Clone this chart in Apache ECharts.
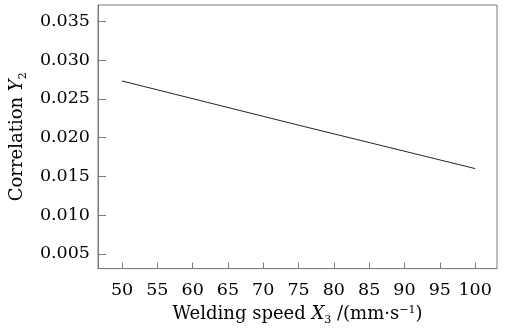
<!DOCTYPE html>
<html>
<head>
<meta charset="utf-8">
<script src="https://cdn.jsdelivr.net/npm/echarts@6/dist/echarts.min.js"></script>
<style>
  html, body { margin: 0; padding: 0; background: #fff; }
  #chart-container { width: 509px; height: 331px; }
</style>
</head>
<body>
<div id="chart-container"></div>
<script>
// values
var speedX = [50, 75, 100];
var correlationY = [0.0273, 0.0216, 0.0160];
var xTicks = [50, 55, 60, 65, 70, 75, 80, 85, 90, 95, 100];
var yTicks = [0.005, 0.010, 0.015, 0.020, 0.025, 0.030, 0.035];

var chartDom = document.getElementById('chart-container');
var myChart = echarts.init(chartDom);
var font = 'DejaVu Serif';
var textColor = '#000';
var frameColor = '#7a7a7a';

var richText = {
  i: { fontFamily: font, fontSize: 18, fontStyle: 'italic', color: textColor },
  sub: { fontFamily: font, fontSize: 11, color: textColor, padding: [12, 0, 0, 0] },
  sup: { fontFamily: font, fontSize: 11, color: textColor, padding: [0, 0, 9, 0] }
};

var option = {
  animation: false,
  grid: { left: 98, right: 12, top: 5, bottom: 58, show: true, borderColor: frameColor, borderWidth: 1 },
  xAxis: {
    type: 'value',
    min: 46.6,
    max: 103.1,
    name: 'Welding speed {i|X}{sub|3} /(mm·s{sup|−1})',
    nameLocation: 'middle',
    nameGap: 32,
    nameTextStyle: { fontFamily: font, fontSize: 18, color: textColor, rich: richText },
    axisLine: { show: true, lineStyle: { color: frameColor } },
    axisTick: { show: true, inside: true, length: 6, customValues: xTicks, lineStyle: { color: frameColor } },
    axisLabel: { customValues: xTicks, fontFamily: font, fontSize: 17.5, color: textColor, margin: 13 },
    splitLine: { show: false }
  },
  yAxis: {
    type: 'value',
    min: 0.0031,
    max: 0.0371,
    name: 'Correlation {i|Y}{sub|2}',
    nameLocation: 'middle',
    nameGap: 66,
    nameTextStyle: { fontFamily: font, fontSize: 18, color: textColor, rich: richText },
    axisLine: { show: true, lineStyle: { color: frameColor } },
    axisTick: { show: true, inside: true, length: 8, customValues: yTicks, lineStyle: { color: frameColor } },
    axisLabel: {
      customValues: yTicks, fontFamily: font, fontSize: 17.5, color: textColor, margin: 8,
      formatter: function (v) { return v.toFixed(3); }
    },
    splitLine: { show: false }
  },
  series: [
    {
      type: 'line',
      data: speedX.map(function (x, i) { return [x, correlationY[i]]; }),
      showSymbol: false,
      lineStyle: { color: '#222', width: 1 }
    }
  ]
};

option && myChart.setOption(option);
</script>
</body>
</html>
